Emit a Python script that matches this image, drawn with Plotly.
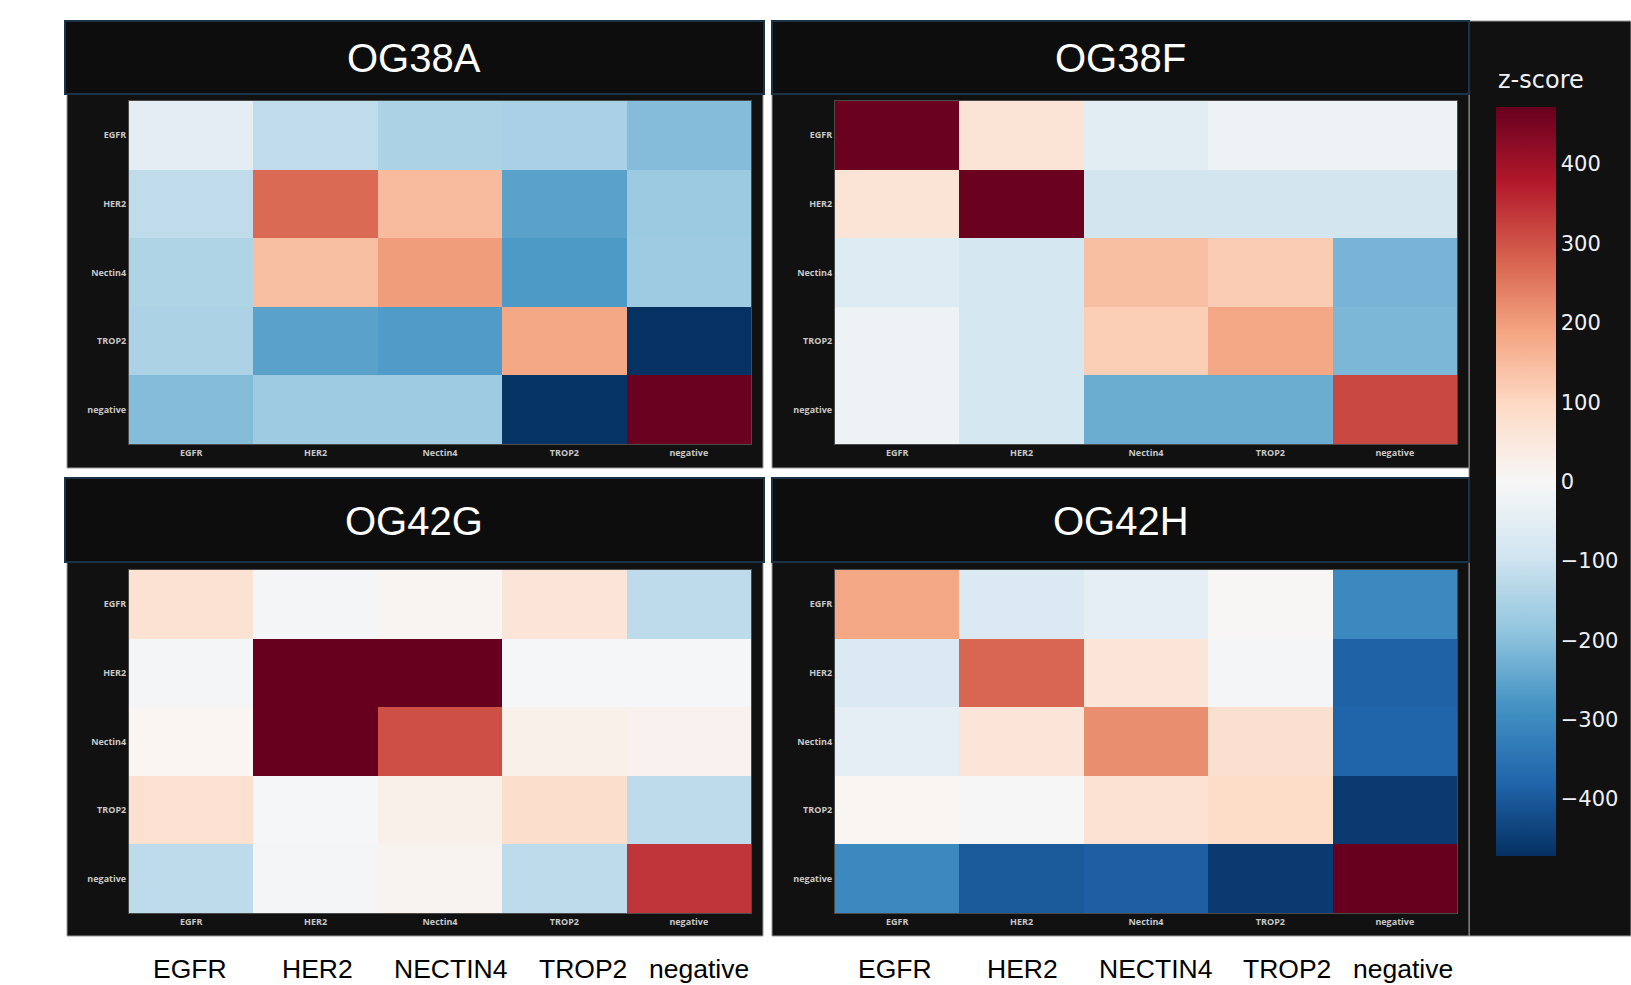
import plotly.graph_objects as go

W, H = 1631, 985

# Row / column categories of every matrix
genes = ["EGFR", "HER2", "Nectin4", "TROP2", "negative"]
bottom_labels = ["EGFR", "HER2", "NECTIN4", "TROP2", "negative"]
sample_names = ["OG38A", "OG38F", "OG42G", "OG42H"]

# z-score matrices, rows in the order of `genes` (top to bottom)
og38a = [
    [-50, -120, -150, -155, -205],
    [-120, 270, 150, -255, -175],
    [-145, 145, 200, -270, -170],
    [-150, -255, -268, 185, -470],
    [-205, -170, -170, -465, 470],
]
og38f = [
    [470, 65, -55, -25, -25],
    [65, 470, -90, -90, -90],
    [-65, -85, 145, 120, -220],
    [-25, -85, 118, 185, -215],
    [-25, -85, -235, -235, 315],
]
og42g = [
    [70, -10, 10, 60, -125],
    [-10, 472, 472, -5, -5],
    [8, 472, 305, 25, 20],
    [75, -5, 25, 85, -125],
    [-125, -8, 15, -125, 340],
]
og42h = [
    [185, -70, -45, 3, -305],
    [-70, 275, 60, -8, -385],
    [-45, 60, 220, 78, -380],
    [8, -3, 70, 92, -455],
    [-305, -400, -390, -455, 472],
]
matrices = [og38a, og38f, og42g, og42h]

ZMAX = 472
rdbu_r = [
    "rgb(5,48,97)", "rgb(33,102,172)", "rgb(67,147,195)", "rgb(146,197,222)",
    "rgb(209,229,240)", "rgb(247,247,247)", "rgb(253,219,199)",
    "rgb(244,165,130)", "rgb(214,96,77)", "rgb(178,24,43)", "rgb(103,0,31)",
]
colorscale = [[i / 10, c] for i, c in enumerate(rdbu_r)]


def fx(x):
    return x / W


def fy(y):
    return 1 - y / H


# panel geometry in pixels: header box, dark body, heatmap area
cols = [
    dict(hx=(65, 764), bx=(67, 763), px=(129, 751)),
    dict(hx=(772, 1469), bx=(772, 1469), px=(835, 1457)),
]
rows = [
    dict(hy=(21, 94), by=(94, 468), py=(101, 444)),
    dict(hy=(478, 562), by=(562, 936), py=(570, 913)),
]

fig = go.Figure()
shapes = []
annotations = []
layout_axes = {}

label_family = "Liberation Sans Narrow, Arial Narrow, Liberation Sans, Arial"
tick_font = dict(family="Open Sans, DejaVu Sans, sans-serif", size=9,
                 color="#c8c8c8", weight="bold")

# dark strip behind the colour bar
shapes.append(dict(type="rect", xref="paper", yref="paper",
                   x0=fx(1469), x1=fx(1631), y0=fy(936), y1=fy(21),
                   fillcolor="#111111", line=dict(color="#9a9a9a", width=1),
                   layer="below"))

k = 0
for r, row in enumerate(rows):
    for c, col in enumerate(cols):
        name = sample_names[k]
        z = matrices[k]
        idx = "" if k == 0 else str(k + 1)

        # body and header boxes
        shapes.append(dict(type="rect", xref="paper", yref="paper",
                           x0=fx(col["bx"][0]), x1=fx(col["bx"][1]),
                           y0=fy(row["by"][1]), y1=fy(row["by"][0]),
                           fillcolor="#111111",
                           line=dict(color="#9a9a9a", width=1),
                           layer="below"))
        shapes.append(dict(type="rect", xref="paper", yref="paper",
                           x0=fx(col["hx"][0]), x1=fx(col["hx"][1]),
                           y0=fy(row["hy"][1]), y1=fy(row["hy"][0]),
                           fillcolor="#0d0d0d",
                           line=dict(color="#1b3347", width=2),
                           layer="below"))
        annotations.append(dict(
            text=name, xref="paper", yref="paper", showarrow=False,
            x=fx((col["hx"][0] + col["hx"][1]) / 2),
            y=fy((row["hy"][0] + row["hy"][1]) / 2 + 1),
            xanchor="center", yanchor="middle",
            font=dict(family=label_family, size=40, color="white"),
        ))

        fig.add_trace(go.Heatmap(
            z=z, x=genes, y=genes, coloraxis="coloraxis",
            xaxis="x" + idx, yaxis="y" + idx,
            xgap=0, ygap=0,
        ))
        layout_axes["xaxis" + idx] = dict(
            domain=[fx(col["px"][0]), fx(col["px"][1])],
            anchor="y" + idx, showgrid=False, zeroline=False,
            tickfont=tick_font, ticks="", ticklen=0,
            showline=True, linecolor="#4a4a4a", linewidth=1, mirror=True,
            tickangle=0,
        )
        layout_axes["yaxis" + idx] = dict(
            domain=[fy(row["py"][1]), fy(row["py"][0])],
            anchor="x" + idx, showgrid=False, zeroline=False,
            autorange="reversed", tickfont=tick_font, ticks="", ticklen=0,
            showline=True, linecolor="#4a4a4a", linewidth=1, mirror=True,
        )
        k += 1

# category labels under the two lower panels
label_x = [[190, 317, 450, 583, 699], [895, 1022, 1155, 1287, 1403]]
for xs in label_x:
    for lab, x in zip(bottom_labels, xs):
        annotations.append(dict(
            text=lab, xref="paper", yref="paper", showarrow=False,
            x=fx(x), y=fy(969), xanchor="center", yanchor="middle",
            font=dict(family=label_family, size=26.5, color="black"),
        ))

annotations.append(dict(
    text="z-score", xref="paper", yref="paper", showarrow=False,
    x=fx(1496), y=fy(80), xanchor="left", yanchor="middle",
    font=dict(family="DejaVu Sans, sans-serif", size=24, color="#eef0f4"),
))

fig.update_layout(
    width=W, height=H,
    margin=dict(l=0, r=0, t=0, b=0),
    paper_bgcolor="white", plot_bgcolor="#111111",
    showlegend=False,
    shapes=shapes, annotations=annotations,
    coloraxis=dict(
        colorscale=colorscale, cmin=-ZMAX, cmax=ZMAX,
        colorbar=dict(
            x=fx(1496), xanchor="left", xref="paper",
            y=fy(856), yanchor="bottom", yref="paper",
            len=749, lenmode="pixels", thickness=60, thicknessmode="pixels",
            xpad=0, ypad=0, outlinewidth=0,
            tickvals=[-400, -300, -200, -100, 0, 100, 200, 300, 400],
            ticks="",
            tickfont=dict(family="DejaVu Sans, sans-serif", size=21, color="#eef0f4"),
        ),
    ),
    **layout_axes,
)

fig.write_html("out.html", config={"displayModeBar": False})
